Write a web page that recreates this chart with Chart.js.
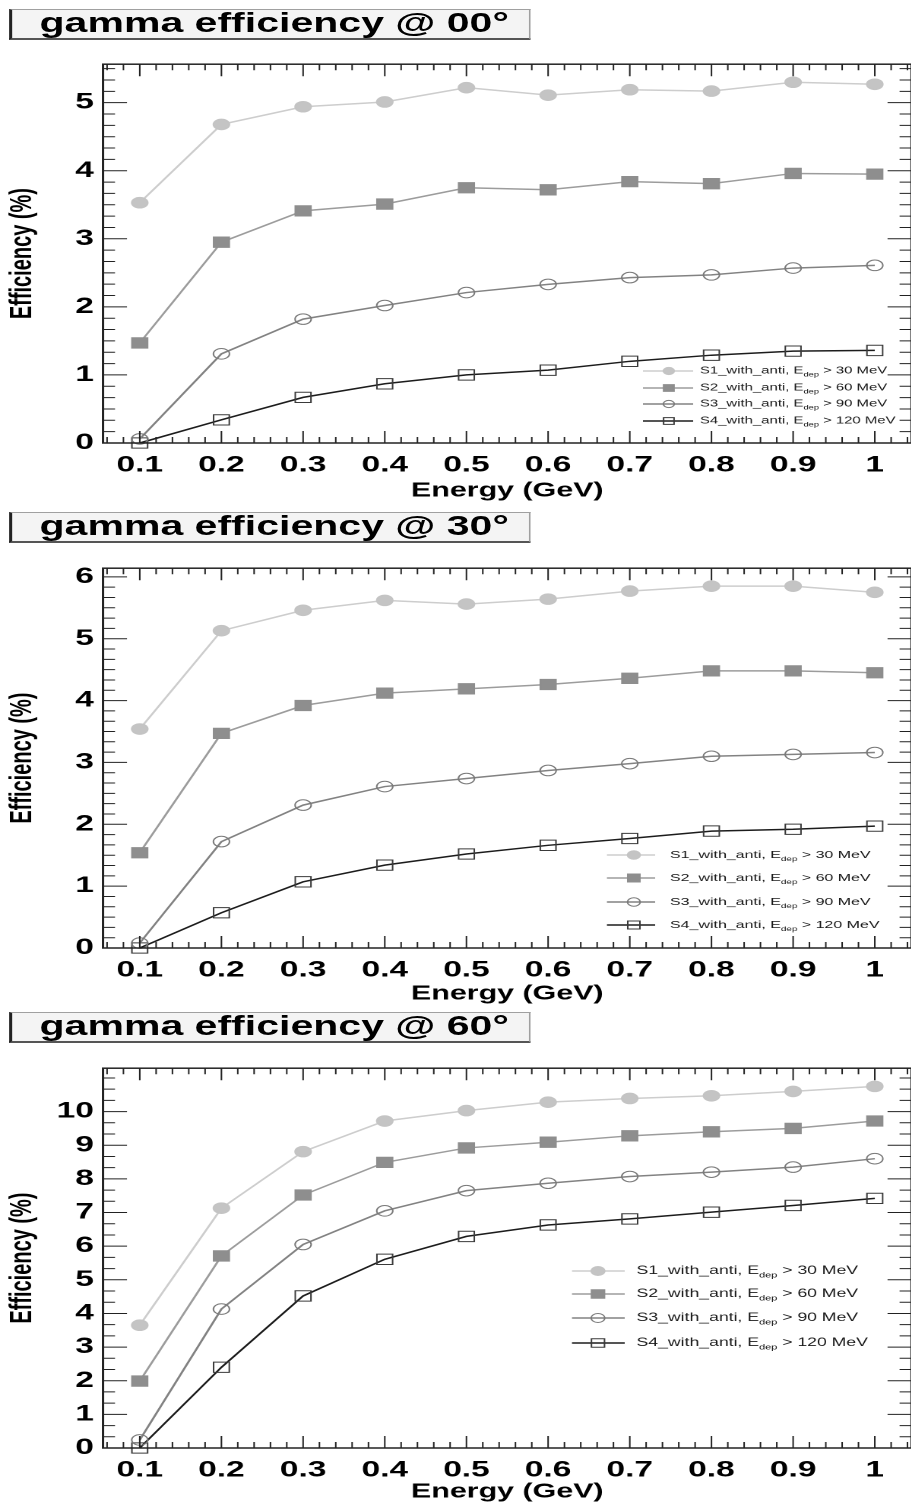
<!DOCTYPE html>
<html>
<head>
<meta charset="utf-8">
<script src="https://cdn.jsdelivr.net/npm/chart.js@4.4.1/dist/chart.umd.min.js"></script>
<style>
  html, body { margin: 0; padding: 0; background: #fff; }
  #page { position: relative; width: 911px; height: 1503px; overflow: hidden; }
  /* the original figure is stretched sideways, so draw narrow and widen */
  #stretch { position: absolute; left: 0; top: 0; width: 610px; height: 1503px;
             transform: scaleX(1.52); transform-origin: 0 0; }
  .title { position: absolute; left: 6px; width: 343px; height: 31px; box-sizing: border-box;
           background: #f4f4f4; border: 1px solid #a0a0a0; border-left: 2px solid #222;
           border-bottom: 2px solid #555; padding-left: 18px;
           font: bold 27px 'Liberation Sans', Arial, sans-serif; line-height: 27px; color: #000;
           white-space: nowrap; }
  canvas { position: absolute; left: 0; }
</style>
</head>
<body>
<div id="page">
  <div id="stretch">
    <div class="title" style="top:9px">gamma efficiency @ 00°</div>
    <canvas id="c00" width="608" height="460" style="top:45px"></canvas>
    <div class="title" style="top:512px">gamma efficiency @ 30°</div>
    <canvas id="c30" width="608" height="461" style="top:549px"></canvas>
    <div class="title" style="top:1012px">gamma efficiency @ 60°</div>
    <canvas id="c60" width="608" height="461" style="top:1049px"></canvas>
  </div>
</div>
<script>
const energy = [0.1, 0.2, 0.3, 0.4, 0.5, 0.6, 0.7, 0.8, 0.9, 1.0];
const xTicks = [0.1, 0.2, 0.3, 0.4, 0.5, 0.6, 0.7, 0.8, 0.9, 1.0];
const seriesNames = ['S1_with_anti', 'S2_with_anti', 'S3_with_anti', 'S4_with_anti'];
const edepCuts = [30, 60, 90, 120];

// 0 degrees
const s1_00 = [3.53, 4.68, 4.94, 5.01, 5.22, 5.11, 5.19, 5.17, 5.30, 5.27];
const s2_00 = [1.47, 2.95, 3.41, 3.51, 3.75, 3.72, 3.84, 3.81, 3.96, 3.95];
const s3_00 = [0.06, 1.31, 1.82, 2.02, 2.21, 2.33, 2.43, 2.47, 2.57, 2.61];
const s4_00 = [0.00, 0.34, 0.67, 0.87, 1.00, 1.07, 1.20, 1.29, 1.35, 1.36];
const yTicks00 = [0, 1, 2, 3, 4, 5];

// 30 degrees
const s1_30 = [3.54, 5.13, 5.46, 5.62, 5.56, 5.64, 5.77, 5.85, 5.85, 5.75];
const s2_30 = [1.54, 3.47, 3.92, 4.12, 4.19, 4.26, 4.36, 4.48, 4.48, 4.45];
const s3_30 = [0.08, 1.72, 2.31, 2.61, 2.74, 2.87, 2.98, 3.10, 3.13, 3.16];
const s4_30 = [0.00, 0.57, 1.07, 1.34, 1.52, 1.66, 1.77, 1.89, 1.92, 1.97];
const yTicks30 = [0, 1, 2, 3, 4, 5, 6];

// 60 degrees
const s1_60 = [3.65, 7.13, 8.81, 9.72, 10.03, 10.28, 10.39, 10.47, 10.60, 10.75];
const s2_60 = [1.99, 5.71, 7.52, 8.49, 8.92, 9.09, 9.28, 9.40, 9.50, 9.72];
const s3_60 = [0.24, 4.13, 6.05, 7.05, 7.65, 7.87, 8.07, 8.20, 8.35, 8.60];
const s4_60 = [0.00, 2.40, 4.52, 5.61, 6.29, 6.63, 6.81, 7.01, 7.21, 7.42];
const yTicks60 = [0, 1, 2, 3, 4, 5, 6, 7, 8, 9, 10];

const SX = 1.52;
const FONT = "'Liberation Sans', Arial, sans-serif";

const styles = [
  { line: '#cdcdcd', marker: 'circle', fill: '#c4c4c4', edge: '#c4c4c4', r: 5.3 },
  { line: '#9c9c9c', marker: 'rect',   fill: '#8e8e8e', edge: '#8e8e8e', r: 7.3 },
  { line: '#828282', marker: 'circle', fill: 'rgba(0,0,0,0)', edge: '#7a7a7a', r: 5.3 },
  { line: '#1c1c1c', marker: 'rect',   fill: 'rgba(0,0,0,0)', edge: '#3a3a3a', r: 7.3 }
];

function marker(ctx, shape, x, y, r, fill, edge) {
  ctx.beginPath();
  if (shape === 'circle') {
    ctx.arc(x, y, r, 0, Math.PI * 2);
  } else {
    const h = r * Math.SQRT1_2;
    ctx.rect(x - h, y - h, 2 * h, 2 * h);
  }
  ctx.fillStyle = fill;
  ctx.fill();
  ctx.lineWidth = 1;
  ctx.strokeStyle = edge;
  ctx.stroke();
}

// frame with inward ticks on all four sides
const rootFrame = {
  id: 'rootFrame',
  afterDatasetsDraw(chart, args, o) {
    const { ctx, chartArea: a, scales: { x, y } } = chart;
    const isMajor = (v, step) => Math.abs(v / step - Math.round(v / step)) < 1e-6;
    ctx.save();
    ctx.strokeStyle = '#222';
    ctx.lineWidth = 1;
    ctx.beginPath();
    for (let i = Math.ceil(x.min / o.xMinor - 1e-9); i * o.xMinor <= x.max + 1e-9; i++) {
      const v = i * o.xMinor, px = x.getPixelForValue(v);
      const len = isMajor(v, o.xMajor) ? 12 : 6;
      ctx.moveTo(px, a.bottom); ctx.lineTo(px, a.bottom - len);
      ctx.moveTo(px, a.top); ctx.lineTo(px, a.top + len);
    }
    for (let i = Math.ceil(y.min / o.yMinor - 1e-9); i * o.yMinor <= y.max + 1e-9; i++) {
      const v = i * o.yMinor, py = y.getPixelForValue(v);
      const len = (isMajor(v, 1) && v <= o.yLast) ? 24 / SX : 12 / SX;
      ctx.moveTo(a.left, py); ctx.lineTo(a.left + len, py);
      ctx.moveTo(a.right, py); ctx.lineTo(a.right - len, py);
    }
    ctx.stroke();
    ctx.lineWidth = 1.5;
    ctx.strokeRect(a.left, a.top, a.right - a.left, a.bottom - a.top);
    ctx.restore();
  }
};

// ROOT style legend without border, E with "dep" subscript
const rootLegend = {
  id: 'rootLegend',
  afterDraw(chart, args, o) {
    const ctx = chart.ctx;
    ctx.save();
    chart.data.datasets.forEach((ds, i) => {
      const yy = o.rows[i];
      ctx.strokeStyle = ds.borderColor;
      ctx.lineWidth = ds.borderWidth;
      ctx.beginPath(); ctx.moveTo(o.x1, yy); ctx.lineTo(o.x2, yy); ctx.stroke();
      const st = styles[i];
      marker(ctx, st.marker, o.xm, yy, st.marker === 'rect' ? o.mr * 1.35 : o.mr, st.fill, st.edge);
      ctx.fillStyle = '#1a1a1a';
      ctx.textBaseline = 'middle';
      ctx.textAlign = 'left';
      const big = o.size + 'px ' + FONT, small = (o.size * 0.62).toFixed(1) + 'px ' + FONT;
      let tx = o.xt;
      ctx.font = big;
      const t1 = seriesNames[i] + ', E';
      ctx.fillText(t1, tx, yy); tx += ctx.measureText(t1).width;
      ctx.font = small;
      ctx.fillText('dep', tx, yy + o.size * 0.4); tx += ctx.measureText('dep').width;
      ctx.font = big;
      ctx.fillText(' > ' + edepCuts[i] + ' MeV', tx, yy);
    });
    ctx.restore();
  }
};

function makeChart(id, series, yMax, yTicks, yMinor, titlePad, legend) {
  const datasets = series.map((vals, i) => ({
    label: seriesNames[i] + ', E_dep > ' + edepCuts[i] + ' MeV',
    data: energy.map((e, k) => ({ x: e, y: vals[k] })),
    borderColor: styles[i].line,
    borderWidth: 1.5,
    tension: 0,
    pointStyle: styles[i].marker,
    pointRadius: styles[i].r,
    pointBackgroundColor: styles[i].fill,
    pointBorderColor: styles[i].edge,
    pointBorderWidth: 1,
    clip: false
  }));
  return new Chart(document.getElementById(id), {
    type: 'line',
    data: { datasets },
    options: {
      responsive: false,
      animation: false,
      devicePixelRatio: 2,
      layout: { padding: { top: 10, right: 2, left: 0, bottom: 0 } },
      plugins: {
        legend: { display: false },
        tooltip: { enabled: false },
        rootFrame: { xMinor: 0.02, xMajor: 0.1, yMinor, yLast: yTicks[yTicks.length - 1] },
        rootLegend: legend
      },
      scales: {
        x: {
          type: 'linear', min: 0.055, max: 1.045,
          afterFit: sc => { sc.height = 62; },
          afterBuildTicks: sc => { sc.ticks = xTicks.map(v => ({ value: v })); },
          grid: { display: false, drawTicks: false },
          border: { display: false },
          ticks: { color: '#000', font: { family: FONT, size: 22, weight: 'bold' }, padding: 9,
                   maxRotation: 0, autoSkip: false, callback: v => String(+v.toFixed(1)) },
          title: { display: true, text: 'Energy (GeV)', color: '#000',
                   font: { family: FONT, size: 20, weight: 'bold' }, padding: { top: 0, bottom: titlePad } }
        },
        y: {
          type: 'linear', min: 0, max: yMax,
          afterFit: sc => { sc.width = 103 / SX; },
          afterBuildTicks: sc => { sc.ticks = yTicks.map(v => ({ value: v })); },
          grid: { display: false, drawTicks: false },
          border: { display: false },
          ticks: { color: '#000', font: { family: FONT, size: 22, weight: 'bold' }, padding: 6 },
          title: { display: true, text: 'Efficiency (%)', color: '#000',
                   font: { family: FONT, size: 20, weight: 'bold' }, padding: { top: 3, bottom: 0 } }
        }
      }
    },
    plugins: [rootFrame, rootLegend]
  });
}

makeChart('c00', [s1_00, s2_00, s3_00, s4_00], 5.565, yTicks00, 1 / 6, 2,
  { x1: 423, x2: 456, xm: 440, xt: 460.5, rows: [326, 343, 359, 376], size: 9.8, mr: 3.6 });
makeChart('c30', [s1_30, s2_30, s3_30, s4_30], 6.14, yTicks30, 1 / 6, 4,
  { x1: 399.3, x2: 431, xm: 417, xt: 440.8, rows: [306, 329, 353, 376], size: 10.5, mr: 4.2 });
makeChart('c60', [s1_60, s2_60, s3_60, s4_60], 11.29, yTicks60, 1 / 3, 6,
  { x1: 376.3, x2: 411, xm: 393.4, xt: 418.8, rows: [222, 245, 269, 294], size: 11.6, mr: 4.5 });
</script>
</body>
</html>
